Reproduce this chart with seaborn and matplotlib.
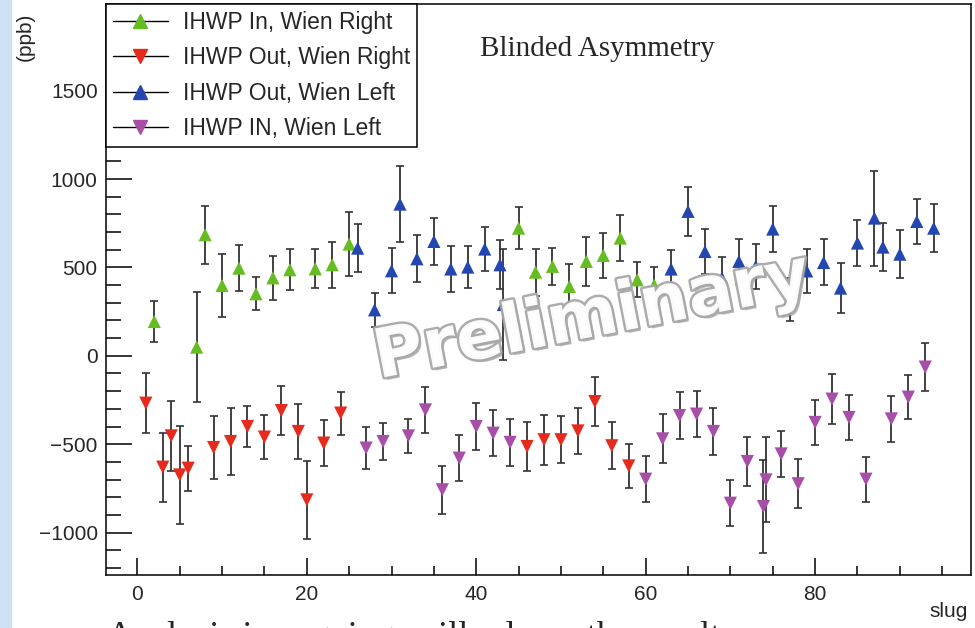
import numpy as np
import pandas as pd
import seaborn as sns
import matplotlib.pyplot as plt
from matplotlib.lines import Line2D
from matplotlib.patches import Rectangle
import matplotlib.patheffects as pe

# datos (slug, asimetria en ppb, error)

in_right_slug = [2, 7, 8, 10, 12, 14, 16, 18, 21, 23, 25, 45, 47, 49, 51, 53, 55, 57, 59, 61]
in_right_val = [194, 49, 685, 398, 496, 351, 441, 487, 492, 515, 632, 722, 473, 506, 392, 534, 568, 666, 430, 400]
in_right_err = [118, 310, 163, 177, 131, 92, 123, 117, 111, 131, 180, 120, 132, 103, 125, 138, 129, 128, 100, 100]

out_right_slug = [1, 3, 4, 5, 6, 9, 11, 13, 15, 17, 19, 20, 22, 24, 46, 48, 50, 52, 54, 56, 58]
out_right_val = [-268, -630, -453, -674, -636, -519, -485, -400, -460, -310, -428, -815, -494, -324,
                 -513, -475, -475, -425, -259, -509, -623]
out_right_err = [171, 195, 197, 277, 127, 177, 188, 115, 125, 138, 155, 220, 132, 122,
                 136, 140, 132, 131, 139, 132, 125]

out_left_slug = [26, 28, 30, 31, 33, 35, 37, 39, 41, 42.8, 43.2, 63, 65, 67, 69, 71, 73, 75, 77, 79,
                 81, 83, 85, 87, 88, 90, 92, 94]
out_left_val = [609, 260, 481, 858, 549, 647, 491, 502, 604, 515, 290, 491, 817, 590, 440, 534, 506, 717,
                317, 480, 528, 383, 638, 779, 615, 575, 760, 722]
out_left_err = [135, 97, 127, 215, 134, 131, 128, 117, 125, 138, 314, 107, 140, 130, 120, 128, 126, 131,
                123, 124, 130, 141, 131, 269, 136, 135, 128, 136]

in_left_slug = [27, 29, 32, 34, 36, 38, 40, 42, 44, 60, 62, 64, 66, 68, 70, 72, 73.9, 74.2, 76, 78,
                80, 82, 84, 86, 89, 91, 93]
in_left_val = [-522, -485, -453, -306, -758, -579, -400, -438, -490, -698, -470, -338, -330, -428,
               -834, -598, -853, -702, -555, -724, -377, -245, -349, -698, -357, -234, -64]
in_left_err = [118, 102, 96, 130, 135, 132, 132, 129, 131, 131, 138, 132, 129, 134,
               130, 140, 265, 240, 128, 139, 128, 140, 130, 127, 132, 126, 134]

labels = ['IHWP In, Wien Right', 'IHWP Out, Wien Right', 'IHWP Out, Wien Left', 'IHWP IN, Wien Left']
colores = ['#66bd22', '#e62a1c', '#2446b0', '#a84ea8']
marcas = ['^', 'v', '^', 'v']

# armar data frame

series = [(in_right_slug, in_right_val, in_right_err),
          (out_right_slug, out_right_val, out_right_err),
          (out_left_slug, out_left_val, out_left_err),
          (in_left_slug, in_left_val, in_left_err)]

frames = []
for lab, (s, v, e) in zip(labels, series):
    frames.append(pd.DataFrame({'slug': s, 'asym': v, 'err': e, 'serie': lab}))
df = pd.concat(frames, ignore_index=True)

sns.set_style('ticks')
plt.rcParams['font.family'] = ['Liberation Sans', 'DejaVu Sans']

W, H = 975, 628
fig = plt.figure(figsize=(W / 100, H / 100), dpi=100)
ax = fig.add_axes([106 / W, 1 - 575 / H, (971 - 106) / W, (575 - 4) / H])

# franja celeste del slide
fig.patches.append(Rectangle((0, 0), 11 / W, 1, transform=fig.transFigure,
                             color='#d0e1f3', zorder=0))

# barras de error
ax.errorbar(df['slug'], df['asym'], yerr=df['err'], fmt='none', ecolor='#333333',
            elinewidth=1.3, capsize=3, capthick=1.2, zorder=2)

# puntos
sns.scatterplot(data=df, x='slug', y='asym', hue='serie', style='serie',
                palette=dict(zip(labels, colores)), markers=dict(zip(labels, marcas)),
                s=90, linewidth=0, legend=False, ax=ax, zorder=3)

ax.set_xlim(-3.7, 98.4)
ax.set_ylim(-1240, 1990)
ax.set_xlabel('')
ax.set_ylabel('')
ax.set_xticks([0, 20, 40, 60, 80])
ax.set_xticks(np.arange(0, 98, 5), minor=True)
ax.set_yticks([-1000, -500, 0, 500, 1000, 1500])
ax.set_yticks(np.arange(-1200, 1990, 100), minor=True)
ax.set_yticklabels(['\u22121000', '\u2212500', '0', '500', '1000', '1500'])

ax.tick_params(axis='both', which='both', direction='in', top=False, right=False,
               labelsize=15, color='black', width=1.1)
ax.tick_params(axis='y', which='major', length=19, pad=6)
ax.tick_params(axis='y', which='minor', length=10.5)
ax.tick_params(axis='x', which='major', length=12, pad=7)
ax.tick_params(axis='x', which='minor', length=6.5)
for sp in ax.spines.values():
    sp.set_color('black')
    sp.set_linewidth(1.1)

# leyenda estilo ROOT
handles = [Line2D([], [], color='black', lw=1, marker=m, markersize=9.5,
                  markerfacecolor=c, markeredgecolor=c)
           for c, m in zip(colores, marcas)]
leg = ax.legend(handles, labels, loc='upper left', bbox_to_anchor=(0, 1),
                borderaxespad=0, fancybox=False, framealpha=1, edgecolor='black',
                fontsize=16.5, handlelength=2.4, handletextpad=0.65,
                labelspacing=0.54, borderpad=0.3)
leg.get_frame().set_linewidth(1.1)
leg.set_zorder(5)

# textos
fig.text(597 / W, 1 - 49 / H, 'Blinded Asymmetry', family='Liberation Serif',
         fontsize=21, ha='center', va='center')
fig.text(968 / W, 1 - 617 / H, 'slug', fontsize=15, ha='right', va='baseline')
fig.text(25 / W, 1 - 37 / H, '(ppb)', fontsize=15, rotation=90, ha='center', va='center')
fig.text(107 / W, 1 - 646 / H, 'Analysis is ongoing, will release the result soon',
         family='Liberation Serif', fontsize=26, ha='left', va='baseline')

# marca de agua
fig.text(592 / W, 1 - 318 / H, 'Preliminary', family='DejaVu Sans', fontweight='bold',
         fontsize=49, rotation=11, ha='center', va='center', color='white', alpha=0.95,
         zorder=10,
         path_effects=[pe.SimplePatchShadow(offset=(2, -2), shadow_rgbFace='#777777', alpha=0.5),
                       pe.withStroke(linewidth=3.5, foreground='#a8a8a8')])

plt.savefig('out.png', dpi=100)
